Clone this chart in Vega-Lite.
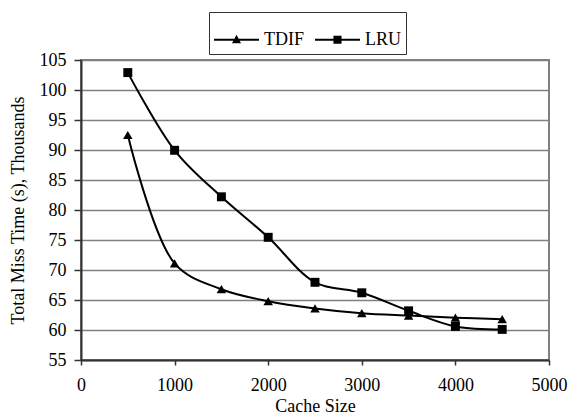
{
  "$schema": "https://vega.github.io/schema/vega-lite/v6.json",
  "autosize": {"type": "none"},
  "padding": {"left": 81, "top": 60, "right": 20, "bottom": 58},
  "width": 468,
  "height": 300,
  "background": "white",
  "config": {
    "font": "Liberation Serif",
    "view": {"stroke": "#808080", "strokeWidth": 2},
    "axis": {
      "labelFont": "Liberation Serif",
      "titleFont": "Liberation Serif",
      "labelFontSize": 18,
      "titleFontSize": 18,
      "titleFontWeight": "normal",
      "labelColor": "black",
      "titleColor": "black",
      "domainColor": "#333333",
      "domainWidth": 2,
      "tickColor": "#333333",
      "tickWidth": 1.5
    },
    "axisX": {"grid": false},
    "axisY": {"grid": true, "gridColor": "#808080", "gridWidth": 1.5, "gridOpacity": 1, "labelOverlap": false, "tickCount": 11},
    "legend": {
      "labelFont": "Liberation Serif",
      "labelFontSize": 18,
      "labelColor": "black"
    }
  },
  "datasets": {
    "pts": [
      {"cache": 500, "time": 92.5, "series": "TDIF"},
      {"cache": 1000, "time": 71.1, "series": "TDIF"},
      {"cache": 1500, "time": 66.8, "series": "TDIF"},
      {"cache": 2000, "time": 64.8, "series": "TDIF"},
      {"cache": 2500, "time": 63.6, "series": "TDIF"},
      {"cache": 3000, "time": 62.8, "series": "TDIF"},
      {"cache": 3500, "time": 62.4, "series": "TDIF"},
      {"cache": 4000, "time": 62.05, "series": "TDIF"},
      {"cache": 4500, "time": 61.8, "series": "TDIF"},
      {"cache": 500, "time": 102.9, "series": "LRU"},
      {"cache": 1000, "time": 89.95, "series": "LRU"},
      {"cache": 1500, "time": 82.2, "series": "LRU"},
      {"cache": 2000, "time": 75.45, "series": "LRU"},
      {"cache": 2500, "time": 67.95, "series": "LRU"},
      {"cache": 3000, "time": 66.2, "series": "LRU"},
      {"cache": 3500, "time": 63.2, "series": "LRU"},
      {"cache": 4000, "time": 60.6, "series": "LRU"},
      {"cache": 4500, "time": 60.1, "series": "LRU"}
    ]
  },
  "data": {"name": "pts"},
  "layer": [
    {
      "mark": {"type": "line", "color": "black", "strokeWidth": 2, "interpolate": "catmull-rom"},
      "encoding": {
        "x": {
          "field": "cache",
          "type": "quantitative",
          "title": "Cache Size",
          "scale": {"domain": [0, 5000], "nice": false},
          "axis": {
            "values": [0, 1000, 2000, 3000, 4000, 5000],
            "format": "d",
            "grid": false,
            "tickSize": 5,
            "labelPadding": 11,
            "titlePadding": 3,
            "labelFlush": false
          }
        },
        "y": {
          "field": "time",
          "type": "quantitative",
          "title": "Total Miss Time (s), Thousands",
          "scale": {"domain": [55, 105], "nice": false, "zero": false},
          "axis": {
            "values": [55, 60, 65, 70, 75, 80, 85, 90, 95, 100, 105],
            "tickCount": 11,
            "grid": true,
            "tickSize": 7,
            "labelPadding": 8,
            "titlePadding": 12,
            "labelOverlap": false,
            "labelFlush": false
          }
        },
        "detail": {"field": "series"}
      }
    },
    {
      "transform": [{"filter": "datum.series === 'TDIF'"}],
      "mark": {"type": "point", "shape": "triangle-up", "filled": true, "color": "black", "size": 90, "opacity": 1},
      "encoding": {
        "x": {"field": "cache", "type": "quantitative"},
        "y": {
          "field": "time",
          "type": "quantitative",
          "title": "Total Miss Time (s), Thousands",
          "axis": {
            "values": [55, 60, 65, 70, 75, 80, 85, 90, 95, 100, 105],
            "tickCount": 11,
            "grid": true,
            "tickSize": 7,
            "labelPadding": 8,
            "titlePadding": 12,
            "labelOverlap": false,
            "labelFlush": false
          }
        }
      }
    },
    {
      "transform": [{"filter": "datum.series === 'LRU'"}],
      "mark": {"type": "point", "shape": "square", "filled": true, "color": "black", "size": 80, "opacity": 1},
      "encoding": {
        "x": {"field": "cache", "type": "quantitative"},
        "y": {
          "field": "time",
          "type": "quantitative",
          "title": "Total Miss Time (s), Thousands",
          "axis": {
            "values": [55, 60, 65, 70, 75, 80, 85, 90, 95, 100, 105],
            "tickCount": 11,
            "grid": true,
            "tickSize": 7,
            "labelPadding": 8,
            "titlePadding": 12,
            "labelOverlap": false,
            "labelFlush": false
          }
        }
      }
    },
    {
      "mark": {"type": "point", "filled": true, "color": "black", "opacity": 0},
      "encoding": {
        "x": {"field": "cache", "type": "quantitative"},
        "y": {
          "field": "time",
          "type": "quantitative",
          "title": "Total Miss Time (s), Thousands",
          "axis": {
            "values": [55, 60, 65, 70, 75, 80, 85, 90, 95, 100, 105],
            "tickCount": 11,
            "grid": true,
            "tickSize": 7,
            "labelPadding": 8,
            "titlePadding": 12,
            "labelOverlap": false,
            "labelFlush": false
          }
        },
        "shape": {
          "field": "series",
          "type": "nominal",
          "sort": ["TDIF", "LRU"],
          "scale": {
            "domain": ["TDIF", "LRU"],
            "range": [
              "M-1,-0.045 L1,-0.045 L1,0.045 L-1,0.045 Z M0,-0.22 L0.2,0.16 L-0.2,0.16 Z",
              "M-1,-0.045 L1,-0.045 L1,0.045 L-1,0.045 Z M-0.18,-0.18 L0.18,-0.18 L0.18,0.18 L-0.18,0.18 Z"
            ]
          },
          "legend": {
            "title": null,
            "orient": "none",
            "legendX": 128,
            "legendY": -48,
            "direction": "horizontal",
            "symbolSize": 2025,
            "symbolOpacity": 1,
            "symbolFillColor": "black",
            "symbolStrokeWidth": 0,
            "labelOffset": 5,
            "columnPadding": 11,
            "padding": 5,
            "strokeColor": "#333333",
            "fillColor": "white",
            "labelFont": "Liberation Serif",
            "labelFontSize": 18,
            "labelColor": "black"
          }
        }
      }
    }
  ]
}
